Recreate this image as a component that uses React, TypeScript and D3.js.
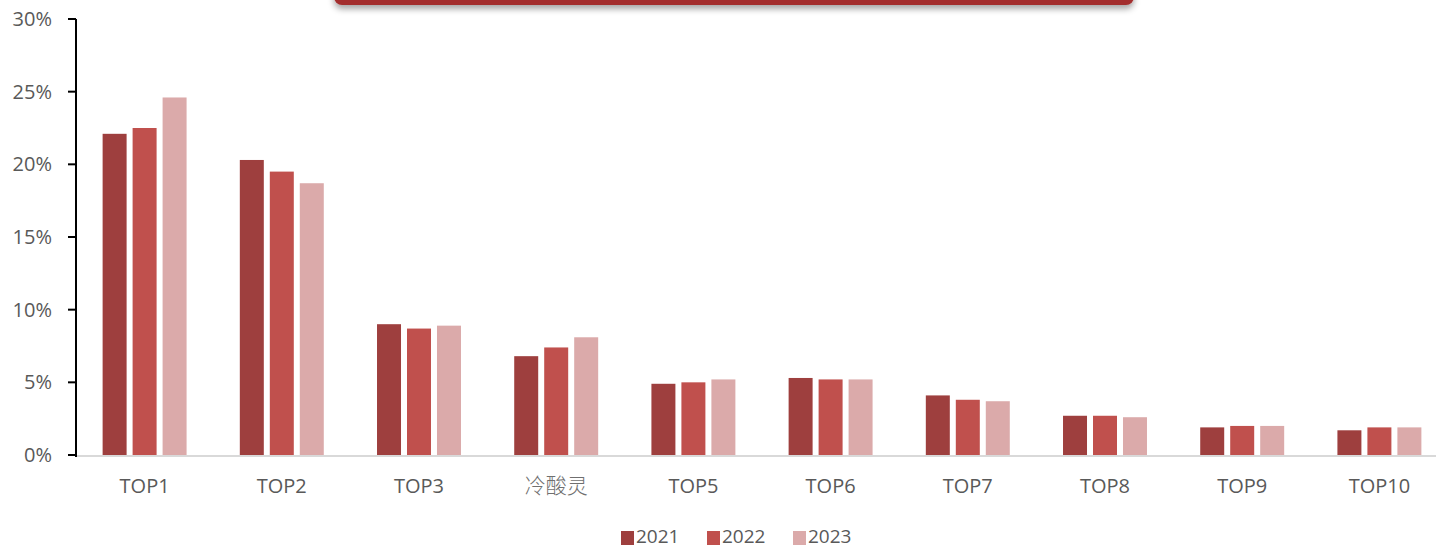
import React from "react";
import * as d3 from "d3";

const categories = ["TOP1", "TOP2", "TOP3", "冷酸灵", "TOP5", "TOP6", "TOP7", "TOP8", "TOP9", "TOP10"];
const years = ["2021", "2022", "2023"];
const share2021 = [22.1, 20.3, 9.0, 6.8, 4.9, 5.3, 4.1, 2.7, 1.9, 1.7];
const share2022 = [22.5, 19.5, 8.7, 7.4, 5.0, 5.2, 3.8, 2.7, 2.0, 1.9];
const share2023 = [24.6, 18.7, 8.9, 8.1, 5.2, 5.2, 3.7, 2.6, 2.0, 1.9];
const yTicks = [0, 5, 10, 15, 20, 25, 30];
const colors = ["#9e3f3e", "#c0504d", "#dbaaaa"];

const W = 1436;
const H = 548;
const left = 76;
const top = 19;
const bottom = 455;

export default function App() {
  const series = [share2021, share2022, share2023];
  const x = d3.scaleBand().domain(categories).range([left, 1448]).paddingInner(0.388).paddingOuter(0.194);
  const xi = d3.scaleBand().domain(years).range([0, x.bandwidth()]).paddingInner(0.2);
  const y = d3.scaleLinear().domain([0, 30]).range([bottom, top]);
  const font = "'Open Sans', 'Noto Sans', sans-serif";
  const legendX = [621, 707, 793];

  return (
    <svg width={W} height={H} style={{ position: "fixed", left: 0, top: 0, background: "#fff" }}>
      <defs>
        <filter id="sh" x="-5%" y="-50%" width="110%" height="300%">
          <feDropShadow dx="0" dy="4" stdDeviation="3" floodColor="#000" floodOpacity="0.35" />
        </filter>
      </defs>
      <rect x={334} y={-30} width={800} height={35} rx={8} fill="#a32f2f" filter="url(#sh)" />

      {categories.map((c, i) => (
        <g key={c}>
          {series.map((s, j) => (
            <rect
              key={j}
              x={(x(c) ?? 0) + (xi(years[j]) ?? 0)}
              y={y(s[i])}
              width={xi.bandwidth()}
              height={bottom - y(s[i])}
              fill={colors[j]}
            />
          ))}
          <text
            x={(x(c) ?? 0) + x.bandwidth() / 2}
            y={493}
            textAnchor="middle"
            fontSize={c === "冷酸灵" ? 21 : 20}
            fill={c === "冷酸灵" ? "#6f6f6f" : "#595959"}
            fontFamily={c === "冷酸灵" ? "'Noto Sans CJK SC', sans-serif" : font}
            fontWeight={c === "冷酸灵" ? 300 : 400}
          >
            {c}
          </text>
        </g>
      ))}

      <line x1={left} x2={W} y1={bottom + 1} y2={bottom + 1} stroke="#d9d9d9" strokeWidth={2} />
      <line x1={left} x2={left} y1={top} y2={bottom + 2} stroke="#000" strokeWidth={2} />
      {yTicks.map((t) => (
        <g key={t}>
          <line x1={68} x2={left} y1={y(t)} y2={y(t)} stroke="#000" strokeWidth={2} />
          <text x={52} y={y(t) + 7} textAnchor="end" fontSize={20} fill="#595959" fontFamily={font}>
            {t}%
          </text>
        </g>
      ))}

      {years.map((yr, j) => (
        <g key={yr} transform={`translate(${legendX[j]},0)`}>
          <rect x={0} y={531} width={13} height={14} fill={colors[j]} />
          <text x={15} y={543} fontSize={19} fill="#595959" fontFamily={font}>
            {yr}
          </text>
        </g>
      ))}
    </svg>
  );
}
